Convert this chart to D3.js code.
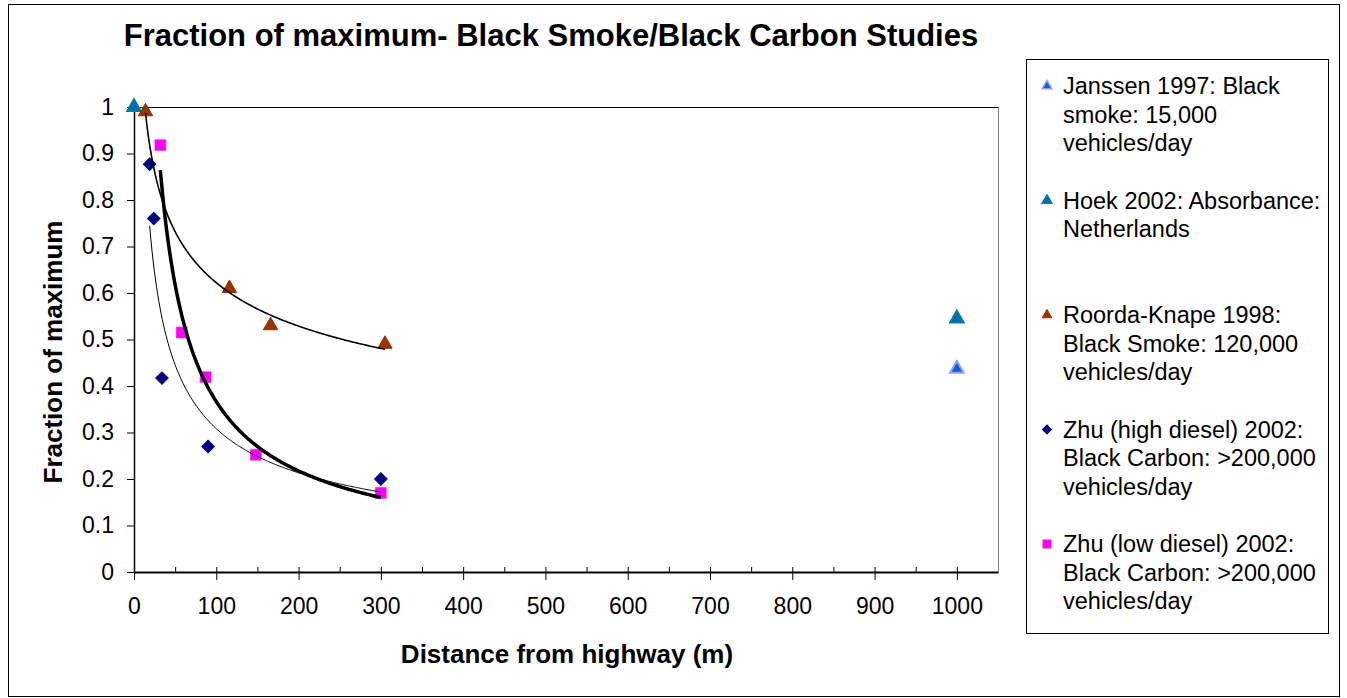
<!DOCTYPE html>
<html>
<head>
<meta charset="utf-8">
<script src="https://cdn.jsdelivr.net/npm/d3@7"></script>
<style>
body { margin: 0; background: #fff; }
text { font-family: Arial, "Liberation Sans", sans-serif; fill: #000; }
</style>
</head>
<body>
<svg width="1347" height="698"></svg>
<script>
// values (distance in m, fraction of maximum)
var janssenDist = [1000],
    janssenFrac = [0.437];
var hoekDist = [0, 1000],
    hoekFrac = [1.0, 0.545];
var roordaDist = [14, 116, 166, 305],
    roordaFrac = [0.99, 0.61, 0.53, 0.49];
var zhuHighDist = [19, 24, 34, 90, 300],
    zhuHighFrac = [0.877, 0.76, 0.417, 0.27, 0.2];
var zhuLowDist = [32, 58, 87, 148, 300],
    zhuLowFrac = [0.918, 0.515, 0.419, 0.252, 0.17];

var xTicks = [0, 100, 200, 300, 400, 500, 600, 700, 800, 900, 1000];
var xMinorTicks = [50, 150, 250, 350, 450, 550, 650, 750, 850, 950];
var yTicks = [0, 0.1, 0.2, 0.3, 0.4, 0.5, 0.6, 0.7, 0.8, 0.9, 1];

var seriesNames = ["janssen", "hoek", "roorda", "zhuHigh", "zhuLow"];
var legendLines = [
    ["Janssen 1997: Black", "smoke: 15,000", "vehicles/day"],
    ["Hoek 2002: Absorbance:", "Netherlands"],
    ["Roorda-Knape 1998:", "Black Smoke: 120,000", "vehicles/day"],
    ["Zhu (high diesel) 2002:", "Black Carbon: >200,000", "vehicles/day"],
    ["Zhu (low diesel) 2002:", "Black Carbon: >200,000", "vehicles/day"]
];

var svg = d3.select("svg");
var plotLeft = 134, plotRight = 998, plotTop = 107, plotBottom = 572;

var x = d3.scaleLinear().domain([0, 1050]).range([plotLeft, plotRight]);
var y = d3.scaleLinear().domain([0, 1]).range([plotBottom, plotTop]);

// outer frame
svg.append("rect")
    .attr("x", 8.5).attr("y", 4.5)
    .attr("width", 1331).attr("height", 692)
    .attr("fill", "none").attr("stroke", "#000").attr("stroke-width", 1);

// title
svg.append("text")
    .attr("x", 551).attr("y", 46)
    .attr("text-anchor", "middle")
    .style("font-size", "31px").style("font-weight", "bold")
    .text("Fraction of maximum- Black Smoke/Black Carbon Studies");

// plot area border (top and right)
svg.append("line")
    .attr("x1", plotLeft).attr("x2", plotRight).attr("y1", plotTop + 0.5).attr("y2", plotTop + 0.5)
    .attr("stroke", "#000");
svg.append("line")
    .attr("x1", plotRight + 0.5).attr("x2", plotRight + 0.5).attr("y1", plotTop).attr("y2", plotBottom)
    .attr("stroke", "#808080");

// x axis
var xAxis = svg.append("g")
    .attr("transform", "translate(0," + plotBottom + ")")
    .call(d3.axisBottom(x).tickValues(xTicks).tickSizeInner(8).tickSizeOuter(0).tickPadding(18)
        .tickFormat(d3.format("d")));
xAxis.selectAll(".tick line").attr("y1", -5).attr("stroke", "#000");
xAxis.select(".domain").attr("stroke", "#000").attr("stroke-width", 2);
xAxis.selectAll("text").style("font-size", "23px").attr("font-family", null);

svg.append("g")
    .attr("transform", "translate(0," + plotBottom + ")")
    .call(d3.axisTop(x).tickValues(xMinorTicks).tickSize(5).tickFormat(""))
    .call(function (g) { g.select(".domain").remove(); });

// y axis
var yAxis = svg.append("g")
    .attr("transform", "translate(" + plotLeft + ",0)")
    .call(d3.axisLeft(y).tickValues(yTicks).tickSizeInner(7).tickSizeOuter(0).tickPadding(13)
        .tickFormat(function (d) { return d === 0 || d === 1 ? d3.format("d")(d) : d3.format(".1f")(d); }));
yAxis.select(".domain").attr("stroke", "#000").attr("stroke-width", 1.5);
yAxis.selectAll("text").style("font-size", "23px").attr("font-family", null);

// axis titles
svg.append("text")
    .attr("x", 567).attr("y", 663)
    .attr("text-anchor", "middle")
    .style("font-size", "26px").style("font-weight", "bold")
    .text("Distance from highway (m)");
svg.append("text")
    .attr("transform", "translate(62,352) rotate(-90)")
    .attr("text-anchor", "middle")
    .style("font-size", "26px").style("font-weight", "bold")
    .text("Fraction of maximum");

// marker styles
var styles = {
    janssen: { type: d3.symbolTriangle, size: 80, fill: "#0066cc", stroke: "#9999ff", sw: 2, rot: 0 },
    hoek: { type: d3.symbolTriangle, size: 80, fill: "#0066cc", stroke: "#008080", sw: 2, rot: 0 },
    roorda: { type: d3.symbolTriangle, size: 90, fill: "#993300", stroke: "#993300", sw: 1, rot: 0 },
    zhuHigh: { type: d3.symbolSquare, size: 78, fill: "#000080", stroke: "#000080", sw: 1, rot: 45 },
    zhuLow: { type: d3.symbolSquare, size: 118, fill: "#ff00ff", stroke: "#ff00ff", sw: 0.5, rot: 0 }
};

function pts(xs, ys) {
    return xs.map(function (d, i) { return { x: d, y: ys[i] }; });
}
var seriesData = {
    janssen: pts(janssenDist, janssenFrac),
    hoek: pts(hoekDist, hoekFrac),
    roorda: pts(roordaDist, roordaFrac),
    zhuHigh: pts(zhuHighDist, zhuHighFrac),
    zhuLow: pts(zhuLowDist, zhuLowFrac)
};

seriesNames.forEach(function (name) {
    var s = styles[name];
    svg.append("g").selectAll("path")
        .data(seriesData[name])
        .enter().append("path")
        .attr("d", d3.symbol(s.type, s.size))
        .attr("transform", function (d) {
            return "translate(" + x(d.x) + "," + y(d.y) + ") rotate(" + s.rot + ")";
        })
        .attr("fill", s.fill)
        .attr("stroke", s.stroke)
        .attr("stroke-width", s.sw);
});

// power trendlines (least squares on log-log, like a spreadsheet power fit)
function powerFit(xs, ys) {
    var lx = xs.map(Math.log), ly = ys.map(Math.log);
    var mx = d3.mean(lx), my = d3.mean(ly);
    var sxy = d3.sum(lx, function (d, i) { return (d - mx) * (ly[i] - my); });
    var sxx = d3.sum(lx, function (d) { return (d - mx) * (d - mx); });
    var b = sxy / sxx;
    var a = Math.exp(my - b * mx);
    return function (v) { return a * Math.pow(v, b); };
}

var line = d3.line()
    .x(function (d) { return x(d[0]); })
    .y(function (d) { return y(d[1]); });

var trends = [
    { xs: roordaDist, ys: roordaFrac, width: 1.6 },
    { xs: zhuHighDist, ys: zhuHighFrac, width: 1 },
    { xs: zhuLowDist, ys: zhuLowFrac, width: 3.5 }
];
trends.forEach(function (t) {
    var f = powerFit(t.xs, t.ys);
    var lo = d3.min(t.xs), hi = d3.max(t.xs);
    var path = d3.range(0, 201).map(function (i) {
        var v = lo + (hi - lo) * i / 200;
        return [v, f(v)];
    });
    svg.append("path")
        .datum(path)
        .attr("d", line)
        .attr("fill", "none")
        .attr("stroke", "#000")
        .attr("stroke-width", t.width)
        .attr("stroke-linejoin", "round");
});

// legend
svg.append("rect")
    .attr("x", 1026.5).attr("y", 59.5)
    .attr("width", 302).attr("height", 574)
    .attr("fill", "#fff").attr("stroke", "#000");

var legendSizes = { janssen: 40, hoek: 40, roorda: 40, zhuHigh: 40, zhuLow: 70 };
seriesNames.forEach(function (name, i) {
    var s = styles[name];
    var base = 94 + i * 114.5;
    var g = svg.append("g");
    g.append("path")
        .attr("d", d3.symbol(s.type, legendSizes[name]))
        .attr("transform", "translate(1047," + (base - 8) + ") rotate(" + s.rot + ")")
        .attr("fill", s.fill)
        .attr("stroke", s.stroke)
        .attr("stroke-width", Math.min(s.sw, 1.5));
    g.selectAll("text")
        .data(legendLines[i])
        .enter().append("text")
        .attr("x", 1063)
        .attr("y", function (d, j) { return base + j * 28.5; })
        .style("font-size", "23.5px")
        .text(function (d) { return d; });
});
</script>
</body>
</html>
